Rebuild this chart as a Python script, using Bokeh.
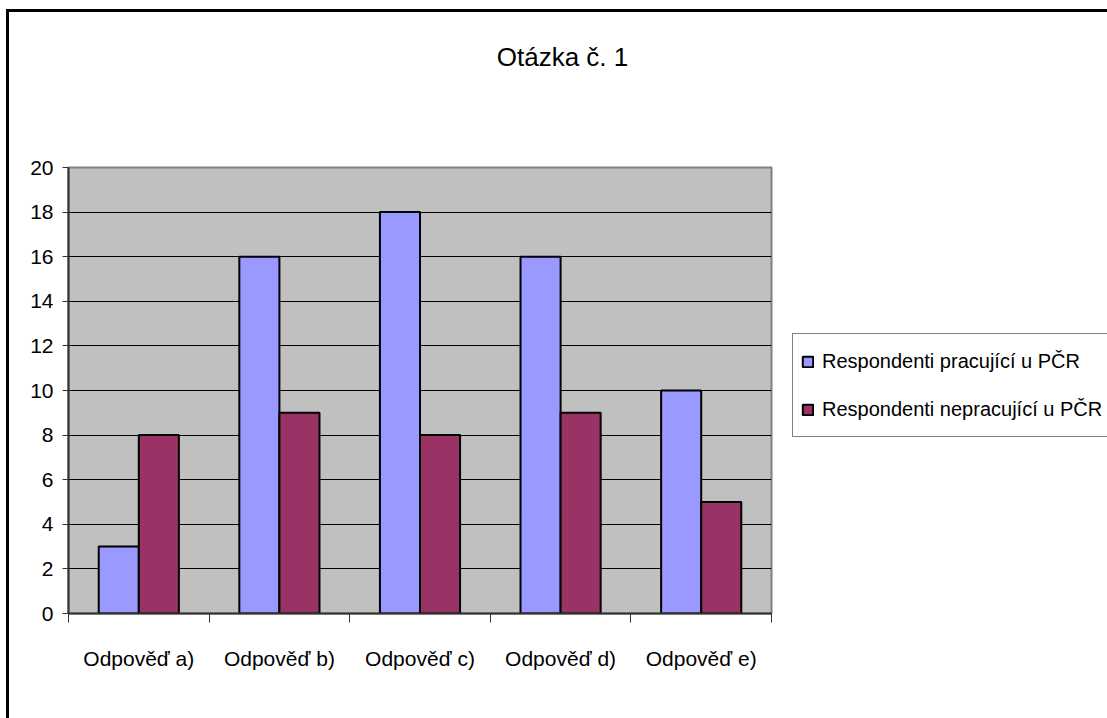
from bokeh.plotting import figure
from bokeh.layouts import column, row
from bokeh.models import Range1d, FixedTicker, Legend, LegendItem, Label, ColumnDataSource
from bokeh.embed import file_html
from bokeh.resources import INLINE

# ---- data ----
categories = ["Odpověď a)", "Odpověď b)", "Odpověď c)", "Odpověď d)", "Odpověď e)"]
pracujici = [3, 16, 18, 16, 10]
nepracujici = [8, 9, 8, 9, 5]
series_names = ["Respondenti pracující u PČR", "Respondenti nepracující u PČR"]
y_ticks = [0, 2, 4, 6, 8, 10, 12, 14, 16, 18, 20]
title_text = "Otázka č. 1"

FONT = "Liberation Sans"
BAR_W = 0.285
COLORS = ["#9999FF", "#993366"]

TOTAL_W = 1098
TITLE_H = 100
MAIN_H = 606
MAIN_W = 772

# ---- title strip ----
pt = figure(width=TOTAL_W, height=TITLE_H, x_range=Range1d(0, TOTAL_W), y_range=Range1d(0, TITLE_H),
            x_axis_type=None, y_axis_type=None, output_backend="svg", toolbar_location=None,
            min_border=0)
pt.outline_line_color = None
pt.grid.grid_line_color = None
pt.background_fill_color = "white"
pt.border_fill_color = "white"
pt.add_layout(Label(x=553, y=56, text=title_text, text_align="center", text_baseline="middle",
                    text_font=FONT, text_font_size="26px", text_color="black"))

# ---- main chart ----
centers = [i + 0.5 for i in range(len(categories))]
src = ColumnDataSource(dict(
    cat=categories,
    x1=[c - BAR_W / 2 for c in centers],
    x2=[c + BAR_W / 2 for c in centers],
    v1=pracujici,
    v2=nepracujici,
))

p = figure(width=MAIN_W, height=MAIN_H,
           x_range=Range1d(0, len(categories)), y_range=Range1d(0, 20),
           output_backend="svg", toolbar_location=None,
           min_border_left=59, min_border_right=10,
           min_border_top=55, min_border_bottom=MAIN_H - 55 - 446)
p.background_fill_color = "#C0C0C0"
p.border_fill_color = "white"
p.outline_line_color = "#808080"
p.outline_line_width = 2

p.vbar(x="x1", top="v1", bottom=0, width=BAR_W, source=src,
       fill_color=COLORS[0], line_color="black", line_width=2)
p.vbar(x="x2", top="v2", bottom=0, width=BAR_W, source=src,
       fill_color=COLORS[1], line_color="black", line_width=2)

p.xgrid.grid_line_color = None
p.ygrid.ticker = FixedTicker(ticks=y_ticks[1:-1])
p.ygrid.grid_line_color = "black"
p.ygrid.grid_line_width = 1

p.yaxis.ticker = FixedTicker(ticks=y_ticks)
p.yaxis.axis_line_color = "#333333"
p.yaxis.axis_line_width = 2
p.yaxis.major_tick_out = 6
p.yaxis.major_tick_in = 0
p.yaxis.major_tick_line_color = "#333333"
p.yaxis.minor_tick_line_color = None
p.yaxis.major_label_text_font = FONT
p.yaxis.major_label_text_font_size = "21px"
p.yaxis.major_label_text_color = "black"
p.yaxis.major_label_standoff = 9

p.xaxis.ticker = FixedTicker(ticks=centers, minor_ticks=list(range(len(categories) + 1)))
p.xaxis.major_label_overrides = {c: lab for c, lab in zip(centers, categories)}
p.xaxis.major_tick_line_color = None
p.xaxis.major_tick_out = 0
p.xaxis.major_tick_in = 0
p.xaxis.minor_tick_out = 9
p.xaxis.minor_tick_in = 0
p.xaxis.minor_tick_line_color = "#333333"
p.xaxis.minor_tick_line_width = 1
p.xaxis.axis_line_color = "#333333"
p.xaxis.axis_line_width = 2
p.xaxis.major_label_text_font = FONT
p.xaxis.major_label_text_font_size = "21px"
p.xaxis.major_label_text_color = "black"
p.xaxis.major_label_standoff = 24

# ---- legend strip (tiny swatch renderers hidden behind the opaque legend box) ----
pl = figure(width=TOTAL_W - MAIN_W, height=MAIN_H, x_range=Range1d(0, 1), y_range=Range1d(0, 1),
            x_axis_type=None, y_axis_type=None, output_backend="svg", toolbar_location=None,
            min_border=0)
pl.outline_line_color = None
pl.grid.grid_line_color = None
pl.background_fill_color = "white"
pl.border_fill_color = "white"
lr1 = pl.vbar(x=[0.5], top=[0.472], bottom=0.468, width=0.005,
              fill_color=COLORS[0], line_color="black", line_width=2)
lr2 = pl.vbar(x=[0.5], top=[0.472], bottom=0.468, width=0.005,
              fill_color=COLORS[1], line_color="black", line_width=2)
legend = Legend(items=[LegendItem(label=series_names[0], renderers=[lr1]),
                       LegendItem(label=series_names[1], renderers=[lr2])],
                location=(11, 176), orientation="vertical")
legend.label_text_font = FONT
legend.label_text_font_size = "20px"
legend.label_text_color = "black"
legend.label_height = 38
legend.glyph_height = 13
legend.glyph_width = 13
legend.label_standoff = 8
legend.spacing = 10
legend.padding = 8
legend.margin = 0
legend.border_line_color = "black"
legend.border_line_width = 1
legend.background_fill_color = "white"
legend.background_fill_alpha = 1
pl.add_layout(legend)

layout = column(pt, row(p, pl, spacing=0), spacing=0,
                styles={"border-top": "3px solid black", "border-left": "3px solid black",
                        "margin-left": "6px", "margin-top": "9px"})

open("out.html", "w").write(file_html(layout, INLINE))
